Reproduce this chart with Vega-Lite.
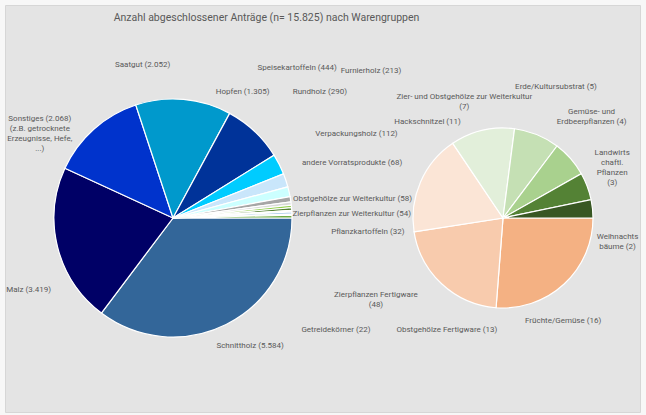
{
  "$schema": "https://vega.github.io/schema/vega-lite/v6.json",
  "width": 635,
  "height": 407,
  "autosize": {"type": "none"},
  "padding": {"left": 5, "top": 5, "right": 6, "bottom": 3},
  "background": "#f7f7f7",
  "view": {"fill": "#e4e4e4", "stroke": "#d6d6d6"},
  "config": {
    "text": {
      "font": "Liberation Sans Narrow, Roboto, sans-serif",
      "fontSize": 8,
      "fill": "#595959",
      "lineBreak": "\n",
      "lineHeight": 10,
      "align": "center",
      "baseline": "middle"
    }
  },
  "datasets": {
    "anteile": [
      {"pie": "links", "name": "Schnittholz", "value": 5584, "label": "Schnittholz (5.584)"},
      {"pie": "links", "name": "Malz", "value": 3419, "label": "Malz (3.419)"},
      {"pie": "links", "name": "Sonstiges", "value": 2068, "label": "Sonstiges (2.068)\n(z.B. getrocknete\nErzeugnisse, Hefe,\n...)"},
      {"pie": "links", "name": "Saatgut", "value": 2052, "label": "Saatgut (2.052)"},
      {"pie": "links", "name": "Hopfen", "value": 1305, "label": "Hopfen (1.305)"},
      {"pie": "links", "name": "Speisekartoffeln", "value": 444, "label": "Speisekartoffeln (444)"},
      {"pie": "links", "name": "Rundholz", "value": 290, "label": "Rundholz (290)"},
      {"pie": "links", "name": "Furnierholz", "value": 213, "label": "Furnierholz (213)"},
      {"pie": "links", "name": "Verpackungsholz", "value": 112, "label": "Verpackungsholz (112)"},
      {"pie": "links", "name": "andere Vorratsprodukte", "value": 68, "label": "andere Vorratsprodukte (68)"},
      {"pie": "links", "name": "Obstgehölze zur Weiterkultur", "value": 58, "label": "Obstgehölze zur Weiterkultur (58)"},
      {"pie": "links", "name": "Zierpflanzen zur Weiterkultur", "value": 54, "label": "Zierpflanzen zur Weiterkultur (54)"},
      {"pie": "links", "name": "Pflanzkartoffeln", "value": 32, "label": "Pflanzkartoffeln (32)"},
      {"pie": "links", "name": "Zierpflanzen Fertigware", "value": 48, "label": "Zierpflanzen Fertigware\n(48)"},
      {"pie": "links", "name": "Getreidekörner", "value": 22, "label": "Getreidekörner (22)"},
      {"pie": "links", "name": "Weitere", "value": 61, "label": ""},
      {"pie": "rechts", "name": "Früchte/Gemüse", "value": 16, "label": "Früchte/Gemüse (16)"},
      {"pie": "rechts", "name": "Obstgehölze Fertigware", "value": 13, "label": "Obstgehölze Fertigware (13)"},
      {"pie": "rechts", "name": "Hackschnitzel", "value": 11, "label": "Hackschnitzel (11)"},
      {"pie": "rechts", "name": "Zier- und Obstgehölze zur Weiterkultur", "value": 7, "label": "Zier- und Obstgehölze zur Weiterkultur\n(7)"},
      {"pie": "rechts", "name": "Erde/Kultursubstrat", "value": 5, "label": "Erde/Kultursubstrat (5)"},
      {"pie": "rechts", "name": "Gemüse- und Erdbeerpflanzen", "value": 4, "label": "Gemüse- und\nErdbeerpflanzen (4)"},
      {"pie": "rechts", "name": "Landwirtschaftl. Pflanzen", "value": 3, "label": "Landwirts\nchaftl.\nPflanzen\n(3)"},
      {"pie": "rechts", "name": "Weihnachtsbäume", "value": 2, "label": "Weihnachts\nbäume (2)"}
    ],
    "titel": [{"titel": "Anzahl abgeschlossener Anträge (n= 15.825) nach Warengruppen"}]
  },
  "layer": [
    {
      "data": {"name": "anteile"},
      "transform": [{"window": [{"op": "row_number", "as": "idx"}]}, {"filter": "datum.pie === 'links'"}],
      "encoding": {
        "x": {"field": "pie", "type": "nominal", "scale": {"type": "point", "padding": 0, "domain": ["links", "rechts"], "range": [168, 498]}, "axis": null},
        "y": {"field": "pie", "type": "nominal", "scale": {"type": "point", "padding": 0, "domain": ["links", "rechts"], "range": [213, 213]}, "axis": null},
        "theta": {"field": "value", "type": "quantitative", "stack": "normalize", "scale": {"domain": [0, 1], "range": [1.5707963, 7.8539816]}},
        "order": {"field": "idx", "type": "quantitative"}
      },
      "layer": [
        {
          "mark": {"type": "arc", "radius": 119, "stroke": "#ffffff", "strokeWidth": 1.2},
          "encoding": {
            "color": {
              "field": "name", "type": "nominal", "legend": null,
              "scale": {
                "domain": ["Schnittholz", "Malz", "Sonstiges", "Saatgut", "Hopfen", "Speisekartoffeln", "Rundholz", "Furnierholz", "Verpackungsholz", "andere Vorratsprodukte", "Obstgehölze zur Weiterkultur", "Zierpflanzen zur Weiterkultur", "Pflanzkartoffeln", "Zierpflanzen Fertigware", "Getreidekörner", "Weitere", "Früchte/Gemüse", "Obstgehölze Fertigware", "Hackschnitzel", "Zier- und Obstgehölze zur Weiterkultur", "Erde/Kultursubstrat", "Gemüse- und Erdbeerpflanzen", "Landwirtschaftl. Pflanzen", "Weihnachtsbäume"],
                "range": ["#336699", "#000066", "#0033cc", "#0099cc", "#003399", "#00ccff", "#c9e6fb", "#ccffff", "#a6a6a6", "#d9d9d9", "#92d050", "#548235", "#f2f2f2", "#9dc3e6", "#e2f0d9", "#70ad47", "#f4b183", "#f8cbad", "#fbe5d6", "#e2efda", "#c5e0b4", "#a9d18e", "#548235", "#385723"]
              }
            }
          }
        },
        {"mark": {"type": "text", "radius": 119, "dx": 24, "dy": 22}, "encoding": {"text": {"condition": {"test": "datum.name === 'Schnittholz'", "field": "label"}, "value": ""}}},
        {"mark": {"type": "text", "radius": 119, "dx": -29, "dy": 43}, "encoding": {"text": {"condition": {"test": "datum.name === 'Malz'", "field": "label"}, "value": ""}}},
        {"mark": {"type": "text", "radius": 119, "dx": -54, "dy": -10}, "encoding": {"text": {"condition": {"test": "datum.name === 'Sonstiges'", "field": "label"}, "value": ""}}},
        {"mark": {"type": "text", "radius": 119, "dx": -41, "dy": -34}, "encoding": {"text": {"condition": {"test": "datum.name === 'Saatgut'", "field": "label"}, "value": ""}}},
        {"mark": {"type": "text", "radius": 119, "dx": -12, "dy": -39}, "encoding": {"text": {"condition": {"test": "datum.name === 'Hopfen'", "field": "label"}, "value": ""}}},
        {"mark": {"type": "text", "radius": 119, "dx": 18, "dy": -96}, "encoding": {"text": {"condition": {"test": "datum.name === 'Speisekartoffeln'", "field": "label"}, "value": ""}}},
        {"mark": {"type": "text", "radius": 119, "dx": 34, "dy": -88}, "encoding": {"text": {"condition": {"test": "datum.name === 'Rundholz'", "field": "label"}, "value": ""}}},
        {"mark": {"type": "text", "radius": 119, "dx": 82, "dy": -121}, "encoding": {"text": {"condition": {"test": "datum.name === 'Furnierholz'", "field": "label"}, "value": ""}}},
        {"mark": {"type": "text", "radius": 119, "dx": 66, "dy": -65}, "encoding": {"text": {"condition": {"test": "datum.name === 'Verpackungsholz'", "field": "label"}, "value": ""}}},
        {"mark": {"type": "text", "radius": 119, "dx": 61, "dy": -40}, "encoding": {"text": {"condition": {"test": "datum.name === 'andere Vorratsprodukte'", "field": "label"}, "value": ""}}},
        {"mark": {"type": "text", "radius": 119, "dx": 61, "dy": -7}, "encoding": {"text": {"condition": {"test": "datum.name === 'Obstgehölze zur Weiterkultur'", "field": "label"}, "value": ""}}},
        {"mark": {"type": "text", "radius": 119, "dx": 60, "dy": 5}, "encoding": {"text": {"condition": {"test": "datum.name === 'Zierpflanzen zur Weiterkultur'", "field": "label"}, "value": ""}}},
        {"mark": {"type": "text", "radius": 119, "dx": 76, "dy": 21}, "encoding": {"text": {"condition": {"test": "datum.name === 'Pflanzkartoffeln'", "field": "label"}, "value": ""}}},
        {"mark": {"type": "text", "radius": 119, "dx": 84, "dy": 82}, "encoding": {"text": {"condition": {"test": "datum.name === 'Zierpflanzen Fertigware'", "field": "label"}, "value": ""}}},
        {"mark": {"type": "text", "radius": 119, "dx": 44, "dy": 115}, "encoding": {"text": {"condition": {"test": "datum.name === 'Getreidekörner'", "field": "label"}, "value": ""}}}
      ]
    },
    {
      "data": {"name": "anteile"},
      "transform": [{"window": [{"op": "row_number", "as": "idx"}]}, {"filter": "datum.pie === 'rechts'"}],
      "encoding": {
        "x": {"field": "pie", "type": "nominal", "scale": {"type": "point", "padding": 0, "domain": ["links", "rechts"], "range": [168, 498]}, "axis": null},
        "y": {"field": "pie", "type": "nominal", "scale": {"type": "point", "padding": 0, "domain": ["links", "rechts"], "range": [213, 213]}, "axis": null},
        "theta": {"field": "value", "type": "quantitative", "stack": "normalize", "scale": {"domain": [0, 1], "range": [1.5707963, 7.8539816]}},
        "order": {"field": "idx", "type": "quantitative"}
      },
      "layer": [
        {
          "mark": {"type": "arc", "radius": 90, "stroke": "#ffffff", "strokeWidth": 1.2},
          "encoding": {"color": {"field": "name", "type": "nominal", "legend": null}}
        },
        {"mark": {"type": "text", "radius": 90, "dx": -1, "dy": 37}, "encoding": {"text": {"condition": {"test": "datum.name === 'Früchte/Gemüse'", "field": "label"}, "value": ""}}},
        {"mark": {"type": "text", "radius": 90, "dx": 5, "dy": 46}, "encoding": {"text": {"condition": {"test": "datum.name === 'Obstgehölze Fertigware'", "field": "label"}, "value": ""}}},
        {"mark": {"type": "text", "radius": 90, "dx": 7, "dy": -60}, "encoding": {"text": {"condition": {"test": "datum.name === 'Hackschnitzel'", "field": "label"}, "value": ""}}},
        {"mark": {"type": "text", "radius": 90, "dx": -18, "dy": -33}, "encoding": {"text": {"condition": {"test": "datum.name === 'Zier- und Obstgehölze zur Weiterkultur'", "field": "label"}, "value": ""}}},
        {"mark": {"type": "text", "radius": 90, "dx": 19, "dy": -48}, "encoding": {"text": {"condition": {"test": "datum.name === 'Erde/Kultursubstrat'", "field": "label"}, "value": ""}}},
        {"mark": {"type": "text", "radius": 90, "dx": 21, "dy": -47}, "encoding": {"text": {"condition": {"test": "datum.name === 'Gemüse- und Erdbeerpflanzen'", "field": "label"}, "value": ""}}},
        {"mark": {"type": "text", "radius": 90, "dx": 25, "dy": -33}, "encoding": {"text": {"condition": {"test": "datum.name === 'Landwirtschaftl. Pflanzen'", "field": "label"}, "value": ""}}},
        {"mark": {"type": "text", "radius": 90, "dx": 25, "dy": 28}, "encoding": {"text": {"condition": {"test": "datum.name === 'Weihnachtsbäume'", "field": "label"}, "value": ""}}}
      ]
    },
    {
      "data": {"name": "titel"},
      "mark": {"type": "text", "fontSize": 10.5, "dx": -56, "dy": -191},
      "encoding": {"text": {"field": "titel", "type": "nominal"}}
    }
  ]
}
